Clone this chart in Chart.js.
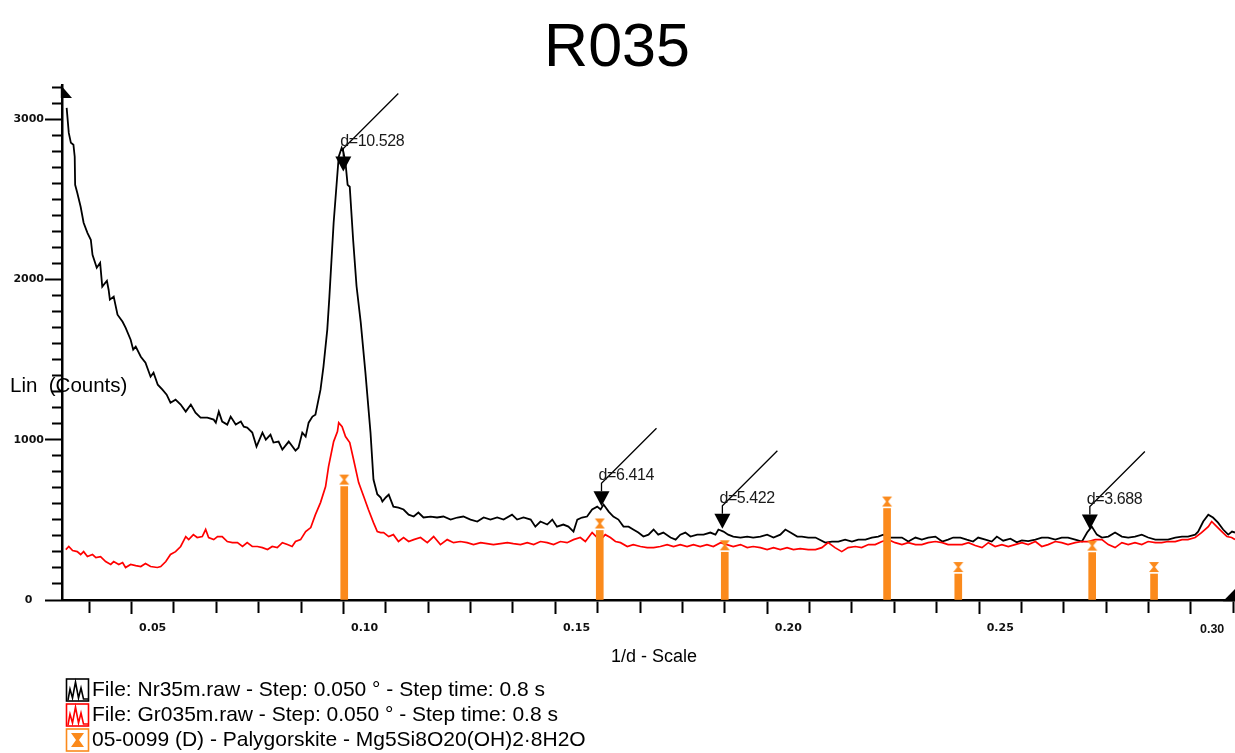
<!DOCTYPE html>
<html>
<head>
  <meta charset="UTF-8">
  <title>R035</title>
  <style>
    body {
      margin: 0;
      background: #fff;
    }
    #chart {
      display: block;
    }
  </style>
  <script src="https://cdn.jsdelivr.net/npm/chart.js"></script>
</head>
<body>
  <canvas id="chart" width="1235" height="753"></canvas>
  <script>
    const chartTitle = 'R035';
    const xTitle = '1/d - Scale';
    const yTitle = 'Lin  (Counts)';

    // Nr35m.raw (black)
    const nrX = [
      0.0297,0.0302,0.0307,0.0313,0.0316,0.0317,0.0322,0.0330,0.0337,0.0346,
      0.0354,0.0358,0.0368,0.0376,0.0381,0.0392,0.0396,0.0399,0.0408,0.0417,
      0.0429,0.0436,0.0448,0.0454,0.0460,0.0472,0.0483,0.0495,0.0502,0.0512,
      0.0523,0.0533,0.0542,0.0554,0.0566,0.0578,0.0590,0.0601,0.0613,0.0629,
      0.0644,0.0649,0.0656,0.0664,0.0676,0.0684,0.0696,0.0708,0.0715,0.0723,
      0.0735,0.0745,0.0759,0.0767,0.0778,0.0785,0.0797,0.0806,0.0821,0.0837,
      0.0844,0.0853,0.0861,0.0868,0.0877,0.0884,0.0896,0.0903,0.0912,0.0917,
      0.0927,0.0939,0.0946,0.0950,0.0955,0.0960,0.0965,0.0973,0.0981,0.0991,
      0.1002,0.1014,0.1021,0.1030,0.1038,0.1042,0.1050,0.1057,0.1068,0.1080,
      0.1092,0.1104,0.1116,0.1127,0.1139,0.1156,0.1171,0.1186,0.1203,0.1219,
      0.1233,0.1250,0.1266,0.1281,0.1297,0.1313,0.1328,0.1348,0.1360,0.1375,
      0.1392,0.1403,0.1415,0.1431,0.1443,0.1454,0.1469,0.1481,0.1493,0.1502,
      0.1513,0.1525,0.1537,0.1549,0.1557,0.1564,0.1576,0.1587,0.1599,0.1611,
      0.1623,0.1634,0.1646,0.1658,0.1670,0.1682,0.1693,0.1705,0.1722,0.1734,
      0.1745,0.1757,0.1769,0.1785,0.1800,0.1816,0.1828,0.1835,0.1847,0.1858,
      0.1870,0.1887,0.1903,0.1917,0.1934,0.1950,0.1965,0.1981,0.1993,0.2005,
      0.2021,0.2032,0.2047,0.2064,0.2087,0.2103,0.2118,0.2134,0.2150,0.2165,
      0.2182,0.2197,0.2212,0.2224,0.2236,0.2252,0.2268,0.2283,0.2300,0.2315,
      0.2330,0.2347,0.2363,0.2377,0.2389,0.2406,0.2421,0.2436,0.2448,0.2465,
      0.2480,0.2492,0.2507,0.2524,0.2539,0.2551,0.2566,0.2583,0.2598,0.2613,
      0.2630,0.2645,0.2660,0.2677,0.2693,0.2705,0.2716,0.2728,0.2740,0.2755,
      0.2771,0.2787,0.2802,0.2818,0.2834,0.2849,0.2866,0.2881,0.2896,0.2913,
      0.2929,0.2943,0.2960,0.2967,0.2979,0.2991,0.3002,0.3014,0.3026,0.3038,
      0.3047,0.3054
    ];
    const nrY = [
      3072,2916,2854,2842,2767,2592,2542,2455,2355,2292,
      2249,2155,2074,2105,1956,1993,1937,1875,1894,1781,
      1737,1700,1625,1563,1582,1519,1481,1394,1419,1344,
      1313,1282,1232,1251,1220,1176,1220,1170,1139,1139,
      1126,1107,1176,1114,1095,1145,1095,1114,1082,1076,
      1045,958,1045,1001,1032,983,989,939,989,933,
      951,1045,1020,1107,1145,1157,1313,1457,1688,1894,
      2355,2767,2823,2798,2729,2592,2580,2249,1960,1731,
      1419,1045,752,660,640,615,640,658,583,577,
      565,533,521,546,515,521,515,521,502,515,
      521,502,490,515,502,515,502,533,502,515,
      502,458,490,471,502,458,471,458,427,502,
      515,521,565,583,565,596,552,521,502,458,
      458,440,421,396,408,440,408,421,390,377,
      408,421,396,408,408,421,408,440,427,408,
      396,390,396,390,396,408,390,408,440,421,
      396,396,390,390,358,365,365,377,365,377,
      377,390,396,408,390,390,390,365,390,377,
      390,396,365,377,390,390,377,365,390,377,
      365,396,370,383,360,372,368,377,390,390,
      377,390,390,377,365,421,458,408,390,396,
      421,396,390,396,408,390,377,377,377,390,
      396,396,408,427,490,533,515,483,440,408,
      427,421
    ];

    // Gr035m.raw (red)
    const grX = [
      0.0295,0.0302,0.0311,0.0322,0.0330,0.0337,0.0346,0.0358,0.0366,0.0377,
      0.0389,0.0401,0.0408,0.0420,0.0429,0.0436,0.0448,0.0460,0.0472,0.0483,
      0.0495,0.0511,0.0519,0.0531,0.0542,0.0554,0.0566,0.0578,0.0585,0.0596,
      0.0605,0.0617,0.0625,0.0632,0.0644,0.0653,0.0664,0.0676,0.0688,0.0700,
      0.0712,0.0723,0.0735,0.0747,0.0759,0.0771,0.0782,0.0794,0.0806,0.0818,
      0.0829,0.0837,0.0849,0.0861,0.0873,0.0884,0.0896,0.0908,0.0915,0.0927,
      0.0936,0.0939,0.0947,0.0955,0.0965,0.0974,0.0986,0.0998,0.1009,0.1021,
      0.1030,0.1038,0.1045,0.1057,0.1068,0.1080,0.1092,0.1104,0.1116,0.1132,
      0.1148,0.1163,0.1179,0.1195,0.1210,0.1226,0.1242,0.1257,0.1274,0.1289,
      0.1304,0.1321,0.1337,0.1351,0.1368,0.1384,0.1399,0.1415,0.1431,0.1446,
      0.1462,0.1478,0.1493,0.1509,0.1521,0.1537,0.1549,0.1557,0.1568,0.1580,
      0.1592,0.1604,0.1620,0.1634,0.1651,0.1667,0.1682,0.1698,0.1714,0.1729,
      0.1745,0.1761,0.1776,0.1792,0.1808,0.1823,0.1840,0.1855,0.1870,0.1887,
      0.1903,0.1917,0.1934,0.1950,0.1965,0.1981,0.1997,0.2012,0.2028,0.2047,
      0.2064,0.2079,0.2094,0.2110,0.2126,0.2141,0.2158,0.2173,0.2189,0.2205,
      0.2221,0.2236,0.2252,0.2268,0.2283,0.2300,0.2315,0.2330,0.2347,0.2363,
      0.2377,0.2394,0.2410,0.2425,0.2441,0.2457,0.2472,0.2488,0.2504,0.2519,
      0.2535,0.2551,0.2566,0.2583,0.2598,0.2613,0.2630,0.2645,0.2660,0.2677,
      0.2693,0.2708,0.2724,0.2740,0.2755,0.2771,0.2787,0.2802,0.2818,0.2834,
      0.2849,0.2866,0.2881,0.2896,0.2913,0.2929,0.2943,0.2960,0.2975,0.2991,
      0.2999,0.3011,0.3023,0.3035,0.3046,0.3054
    ];
    const grY = [
      315,334,309,302,284,302,271,284,265,271,
      240,222,240,222,234,203,222,215,209,228,
      209,203,209,240,284,302,334,396,377,408,
      390,396,440,390,377,396,396,365,358,358,
      334,358,334,334,327,315,334,327,358,346,
      334,365,377,427,452,533,608,708,833,989,
      1051,1107,1082,1020,983,877,733,646,565,483,
      427,421,421,396,408,365,390,365,377,390,
      358,396,346,377,358,365,358,346,358,352,
      346,352,358,352,346,358,346,365,358,346,
      365,358,377,390,365,421,390,377,408,390,
      365,358,334,346,334,327,327,334,346,334,
      346,334,346,334,346,334,358,346,334,346,
      327,334,327,315,327,315,327,315,321,315,
      315,327,358,327,302,327,334,327,346,346,
      365,377,358,346,358,346,346,358,365,358,
      346,346,346,358,340,327,358,334,346,334,
      346,358,346,365,334,346,365,358,346,358,
      365,365,377,377,346,327,358,346,358,346,
      365,358,358,365,365,377,377,390,421,458,
      490,458,427,396,390,377
    ];

    // 05-0099 Palygorskite reference lines
    const stickX = [0.0952, 0.1555, 0.1850, 0.2233, 0.2401, 0.2717, 0.2863];
    const stickY = [708, 434, 298, 571, 162, 296, 162];

    // peak markers (d in Angstrom, counts at arrow tip)
    const peakD = [10.528, 6.414, 5.422, 3.688];
    const peakY = [2675, 585, 445, 440];

    const legendLabels = [
      'File: Nr35m.raw - Step: 0.050 ° - Step time: 0.8 s',
      'File: Gr035m.raw - Step: 0.050 ° - Step time: 0.8 s',
      '05-0099 (D) - Palygorskite - Mg5Si8O20(OH)2·8H2O'
    ];

    const BLACK = '#000000';
    const RED = '#ff0000';
    const ORANGE = '#fb8a1c';

    const pts = (xs, ys) => xs.map((x, i) => ({ x: x, y: ys[i] }));

    function hourglassImage(color) {
      const c = document.createElement('canvas');
      c.width = 12;
      c.height = 28;
      const g = c.getContext('2d');
      g.fillStyle = color;
      g.beginPath();
      g.moveTo(1, 2); g.lineTo(11, 2); g.lineTo(7, 7);
      g.lineTo(11, 12); g.lineTo(1, 12); g.lineTo(5, 7);
      g.closePath();
      g.fill();
      return c;
    }

    const isMajorX = v => Math.round(v * 100) % 5 === 0;

    const overlay = {
      id: 'overlay',
      afterDatasetsDraw(chart) {
        const { ctx, scales: { x, y } } = chart;
        ctx.save();
        ctx.fillStyle = BLACK;
        ctx.strokeStyle = BLACK;
        ctx.lineWidth = 1.3;
        ctx.font = '16px "Liberation Sans", Arial, sans-serif';
        ctx.letterSpacing = '-0.4px';
        ctx.textAlign = 'left';
        ctx.textBaseline = 'alphabetic';
        peakD.forEach((d, i) => {
          const px = x.getPixelForValue(1 / d);
          const py = y.getPixelForValue(peakY[i]);
          ctx.beginPath();
          ctx.moveTo(px - 8, py - 15);
          ctx.lineTo(px + 8, py - 15);
          ctx.lineTo(px, py);
          ctx.closePath();
          ctx.fill();
          ctx.beginPath();
          ctx.moveTo(px, py - 15);
          ctx.lineTo(px, py - 23);
          ctx.lineTo(px + 55, py - 78);
          ctx.stroke();
          ctx.fillStyle = '#1a1a1a';
          ctx.fillText('d=' + d, px - 3, py - 26);
          ctx.fillStyle = BLACK;
        });
        ctx.restore();
      },
      afterDraw(chart) {
        const { ctx, chartArea: a } = chart;
        ctx.save();
        ctx.fillStyle = BLACK;

        // axis arrows
        ctx.beginPath();
        ctx.moveTo(a.left - 1.2, a.top);
        ctx.lineTo(a.left - 1.2, a.top + 13);
        ctx.lineTo(a.left + 10, a.top + 13);
        ctx.closePath();
        ctx.fill();
        ctx.beginPath();
        ctx.moveTo(a.right - 12, a.bottom + 1.2);
        ctx.lineTo(a.right, a.bottom + 1.2);
        ctx.lineTo(a.right, a.bottom - 11);
        ctx.closePath();
        ctx.fill();

        // title
        ctx.font = '61px "Liberation Sans", Arial, sans-serif';
        ctx.textAlign = 'center';
        ctx.textBaseline = 'alphabetic';
        ctx.fillText(chartTitle, 617, 66);

        // axis titles
        ctx.textBaseline = 'middle';
        ctx.font = '20.5px "Liberation Sans", Arial, sans-serif';
        ctx.textAlign = 'left';
        ctx.fillText(yTitle, 10, 386);
        ctx.font = '18px "Liberation Sans", Arial, sans-serif';
        ctx.textAlign = 'center';
        ctx.fillText(xTitle, 654, 657);

        // legend
        ctx.font = '21px "Liberation Sans", Arial, sans-serif';
        ctx.textAlign = 'left';
        legendLabels.forEach((t, i) => {
          const cy = 690 + i * 25;
          const col = [BLACK, RED, ORANGE][i];
          ctx.strokeStyle = col;
          ctx.lineWidth = 1.6;
          ctx.strokeRect(66.5, cy - 11, 22, 22);
          if (i < 2) {
            ctx.beginPath();
            ctx.moveTo(68, cy + 10);
            ctx.lineTo(70, cy - 1);
            ctx.lineTo(72.5, cy + 8);
            ctx.lineTo(75.5, cy - 8);
            ctx.lineTo(78.5, cy + 8);
            ctx.lineTo(81, cy - 2);
            ctx.lineTo(83.5, cy + 9);
            ctx.lineTo(88, cy + 9);
            ctx.stroke();
          } else {
            ctx.fillStyle = ORANGE;
            ctx.beginPath();
            ctx.moveTo(71, cy - 7); ctx.lineTo(84, cy - 7); ctx.lineTo(79, cy);
            ctx.lineTo(84, cy + 7); ctx.lineTo(71, cy + 7); ctx.lineTo(76, cy);
            ctx.closePath();
            ctx.fill();
          }
          ctx.fillStyle = BLACK;
          ctx.fillText(t, 92, cy);
        });
        ctx.restore();
      }
    };

    new Chart(document.getElementById('chart').getContext('2d'), {
      type: 'line',
      data: {
        datasets: [
          {
            type: 'line',
            label: legendLabels[0],
            data: pts(nrX, nrY),
            borderColor: BLACK,
            borderWidth: 1.8,
            pointRadius: 0,
            tension: 0,
            order: 3
          },
          {
            type: 'line',
            label: legendLabels[1],
            data: pts(grX, grY),
            borderColor: RED,
            borderWidth: 1.7,
            pointRadius: 0,
            tension: 0,
            order: 2
          },
          {
            type: 'bar',
            label: legendLabels[2],
            data: pts(stickX, stickY),
            backgroundColor: ORANGE,
            barThickness: 7,
            order: 1
          },
          {
            type: 'line',
            label: 'markers',
            data: pts(stickX, stickY),
            showLine: false,
            pointStyle: hourglassImage(ORANGE),
            pointRadius: 6,
            order: 0
          }
        ]
      },
      options: {
        responsive: false,
        animation: false,
        layout: { autoPadding: false, padding: { top: 85, left: 0, right: 0, bottom: 0 } },
        plugins: {
          legend: { display: false },
          title: { display: false },
          tooltip: { enabled: false }
        },
        scales: {
          x: {
            type: 'linear',
            min: 0.0286,
            max: 0.3054,
            offset: false,
            afterFit: s => { s.height = 153; s.paddingLeft = 0; s.paddingRight = 0; },
            border: { color: BLACK, width: 2.5 },
            grid: {
              drawOnChartArea: false,
              tickLength: 14,
              tickWidth: 2,
              tickColor: BLACK,
              tickBorderDash: c => (c.tick && isMajorX(c.tick.value)) ? [] : [11.5, 40]
            },
            ticks: {
              stepSize: 0.01,
              includeBounds: false,
              autoSkip: false,
              maxRotation: 0,
              padding: 8,
              color: '#111',
              font: c => (c.tick && Math.abs(c.tick.value - 0.3) < 1e-6)
                ? { family: '"Liberation Sans", Arial', weight: 'bold', size: 12.5 }
                : { family: '"DejaVu Sans"', weight: 'bold', size: 11 },
              callback: v => isMajorX(v) ? v.toFixed(2) : ''
            }
          },
          y: {
            min: 0,
            max: 3215,
            afterFit: s => { s.width = 62; s.paddingTop = 0; s.paddingBottom = 0; },
            border: { color: BLACK, width: 2.5 },
            grid: {
              drawOnChartArea: false,
              tickLength: 17,
              tickWidth: 2,
              tickColor: BLACK,
              tickBorderDash: c => (c.tick && c.tick.value % 1000 === 0) ? [] : [0, 7, 12, 40]
            },
            ticks: {
              stepSize: 100,
              includeBounds: false,
              autoSkip: false,
              crossAlign: 'center',
              padding: 1,
              color: '#111',
              font: { family: '"DejaVu Sans"', weight: 'bold', size: 11 },
              callback: v => v % 1000 === 0 ? String(v) : ''
            }
          }
        }
      },
      plugins: [overlay]
    });
  </script>
</body>
</html>
